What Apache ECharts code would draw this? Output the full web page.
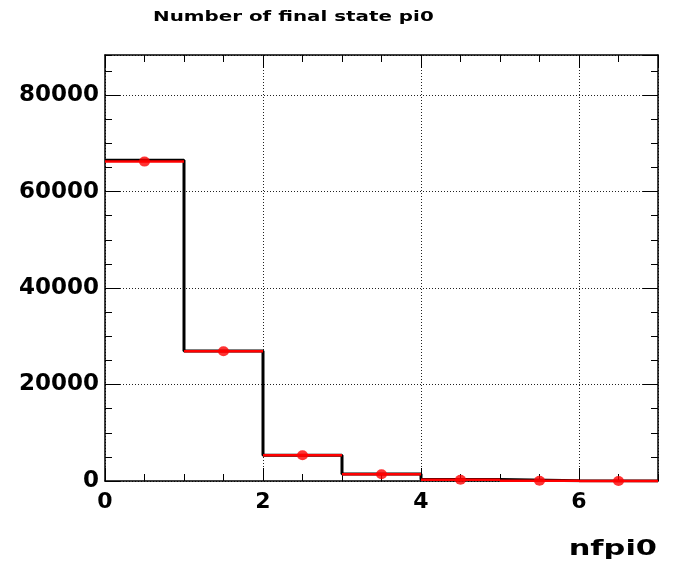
<!DOCTYPE html>
<html>
<head>
<meta charset="utf-8">
<script src="https://cdn.jsdelivr.net/npm/echarts@6/dist/echarts.min.js"></script>
<style>
  html, body { margin: 0; padding: 0; background: #fff; }
  #chart { width: 675px; height: 565px; }
</style>
</head>
<body>
<div id="chart"></div>
<script>
// Histogram of the number of final-state pi0 per event
const binLowEdges = [0, 1, 2, 3, 4, 5, 6];
const binWidth = 1;
const histCounts = [66500, 26950, 5360, 1430, 290, 70, 20];   // black step histogram
const pointCounts = [66200, 26900, 5330, 1390, 250, 60, 15];  // red points
const xTickValues = [0, 2, 4, 6];
const yTickValues = [0, 20000, 40000, 60000, 80000];

const xMin = 0, xMax = 7;
const yMin = 0, yMax = 88300;

// step outline: one point per bin edge, last edge repeats the last bin
const stepData = binLowEdges.map((x, i) => [x, histCounts[i]]);
stepData.push([binLowEdges[binLowEdges.length - 1] + binWidth, histCounts[histCounts.length - 1]]);

const pointData = binLowEdges.map((x, i) => [x + binWidth / 2, pointCounts[i]]);

const FONT = 'DejaVu Sans';
const gridStyle = { color: '#222', width: 1, type: [1, 2] };

function lineDef(show) {
  return { show, onZero: false, lineStyle: { color: '#000', width: 1.5 } };
}

function xAxisDef(position, major, withLabels) {
  return {
    type: 'value', position, min: xMin, max: xMax,
    interval: major ? 2 : 0.5,
    axisLine: lineDef(major),
    axisTick: { show: true, inside: true, length: major ? 13 : 7, lineStyle: { color: '#000', width: 1 } },
    axisLabel: withLabels ? {
      show: true, margin: 10, color: '#000', fontFamily: FONT, fontWeight: 'bold', fontSize: 22,
      showMaxLabel: false,
      formatter: v => (xTickValues.indexOf(v) >= 0 ? String(v) : '')
    } : { show: false },
    splitLine: { show: withLabels, lineStyle: gridStyle }
  };
}

function yAxisDef(position, major, withLabels) {
  return {
    type: 'value', position, min: yMin, max: yMax,
    interval: major ? 20000 : 5000,
    axisLine: lineDef(major),
    axisTick: { show: true, inside: true, length: major ? 15 : 7, lineStyle: { color: '#000', width: 1 } },
    axisLabel: withLabels ? {
      show: true, margin: 6, color: '#000', fontFamily: FONT, fontWeight: 'bold', fontSize: 23,
      showMaxLabel: false,
      formatter: v => (yTickValues.indexOf(v) >= 0 ? String(v) : '')
    } : { show: false },
    splitLine: { show: withLabels, lineStyle: gridStyle }
  };
}

const chart = echarts.init(document.getElementById('chart'), null, { renderer: 'canvas' });

chart.setOption({
  animation: false,
  backgroundColor: '#fff',
  grid: { left: 105, right: 17, top: 55, bottom: 84, containLabel: false },
  xAxis: [
    xAxisDef('bottom', true, true),
    xAxisDef('bottom', false, false),
    xAxisDef('top', true, false),
    xAxisDef('top', false, false)
  ],
  yAxis: [
    yAxisDef('left', true, true),
    yAxisDef('left', false, false),
    yAxisDef('right', true, false),
    yAxisDef('right', false, false)
  ],
  graphic: [
    {
      type: 'text', x: 153, y: 17, scaleX: 1.42,
      style: {
        text: 'Number of final state pi0', fill: '#000',
        font: 'bold 14px "DejaVu Sans"', textAlign: 'left', textVerticalAlign: 'middle'
      }
    },
    {
      type: 'text', x: 657, y: 550, scaleX: 1.45,
      style: {
        text: 'nfpi0', fill: '#000',
        font: 'bold 21px "DejaVu Sans"', textAlign: 'right', textVerticalAlign: 'middle'
      }
    }
  ],
  series: [
    {
      name: 'histogram', type: 'line', step: 'end', data: stepData,
      xAxisIndex: 0, yAxisIndex: 0,
      symbol: 'none', lineStyle: { color: '#000', width: 3 }, z: 3
    },
    {
      name: 'bin width', type: 'custom', data: pointData,
      xAxisIndex: 0, yAxisIndex: 0, z: 4,
      renderItem: function (params, api) {
        const x = api.value(0), y = api.value(1);
        const p1 = api.coord([x - binWidth / 2, y]);
        const p2 = api.coord([x + binWidth / 2, y]);
        return {
          type: 'line',
          shape: { x1: p1[0], y1: p1[1], x2: p2[0], y2: p2[1] },
          style: { stroke: '#ff0000', lineWidth: 2.5 }
        };
      }
    },
    {
      name: 'points', type: 'scatter', data: pointData,
      xAxisIndex: 0, yAxisIndex: 0, z: 5,
      symbol: 'circle', symbolSize: [11, 10],
      itemStyle: { color: '#ff0000' }
    }
  ]
});
</script>
</body>
</html>
